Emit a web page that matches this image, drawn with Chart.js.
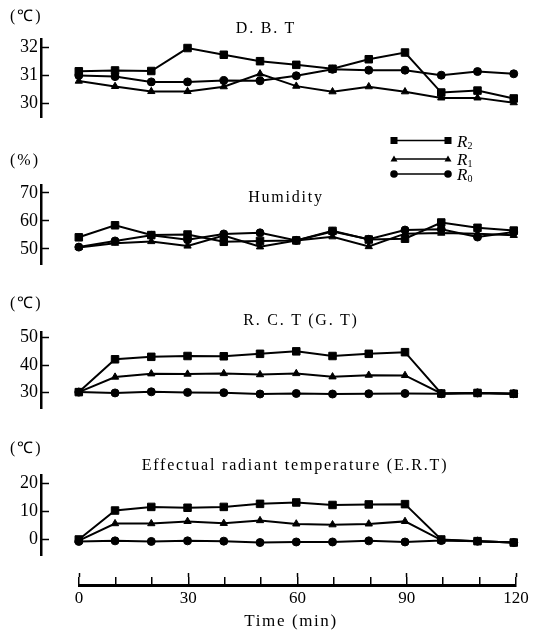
<!DOCTYPE html>
<html>
<head>
<meta charset="utf-8">
<script src="https://cdn.jsdelivr.net/npm/chart.js@4.4.0/dist/chart.umd.min.js"></script>
<style>
  html, body { margin: 0; padding: 0; background: #fff; }
  #wrap { position: relative; width: 534px; height: 631px; overflow: hidden;
          font-family: "Liberation Serif", serif; color: #000; }
  #wrap canvas { position: absolute; left: 0; }
  .ttl { position: absolute; font-size: 16px; line-height: 16px; white-space: nowrap;
         letter-spacing: 1.8px; transform: translateX(-50%); }
  .unit { position: absolute; left: 10px; font-size: 16px; line-height: 16px;
          letter-spacing: 2px; white-space: nowrap; }
</style>
</head>
<body>
<div id="wrap">
  <canvas id="cDbt" width="534" height="122" style="top:17px"></canvas>
  <canvas id="cHum" width="534" height="123" style="top:163px"></canvas>
  <canvas id="cRct" width="534" height="120" style="top:310px"></canvas>
  <canvas id="cErt" width="534" height="124" style="top:453px"></canvas>
  <canvas id="cTime" width="534" height="61" style="top:570px"></canvas>

  <div class="unit" style="top:8px">(℃)</div>
  <div class="unit" style="top:152px">(%)</div>
  <div class="unit" style="top:295px">(℃)</div>
  <div class="unit" style="top:440px">(℃)</div>

  <div class="ttl" style="left:266px;top:20px">D. B. T</div>
  <div class="ttl" style="left:286px;top:189px">Humidity</div>
  <div class="ttl" style="left:301px;top:312px">R. C. T (G. T)</div>
  <div class="ttl" style="left:295px;top:457px">Effectual radiant temperature (E.R.T)</div>
  <div class="ttl" style="left:291px;top:612px;font-size:17px;line-height:17px;letter-spacing:1.6px">Time (min)</div>

  <!-- series key -->
  <svg width="110" height="60" style="position:absolute;left:385px;top:128px">
    <g stroke="#000" stroke-width="1.5" fill="#000">
      <line x1="9" y1="12.5" x2="63" y2="12.5"/>
      <rect x="5.5" y="9" width="7" height="7" stroke="none"/>
      <rect x="59.5" y="9" width="7" height="7" stroke="none"/>
      <line x1="9" y1="31" x2="63" y2="31"/>
      <polygon points="9,27.5 12.5,33.5 5.5,33.5" stroke="none"/>
      <polygon points="63,27.5 66.5,33.5 59.5,33.5" stroke="none"/>
      <line x1="9" y1="46" x2="63" y2="46"/>
      <circle cx="9" cy="46" r="3.8" stroke="none"/>
      <circle cx="63" cy="46" r="3.8" stroke="none"/>
    </g>
    <g font-family="Liberation Serif" font-size="17" font-style="italic" fill="#000">
      <text x="72" y="19">R<tspan font-size="10" font-style="normal" dy="2">2</tspan></text>
      <text x="72" y="37">R<tspan font-size="10" font-style="normal" dy="2">1</tspan></text>
      <text x="72" y="52">R<tspan font-size="10" font-style="normal" dy="2">0</tspan></text>
    </g>
  </svg>
</div>

<script>
// sampling times (min)
const minutes = [0, 10, 20, 30, 40, 50, 60, 70, 80, 90, 100, 110, 120];

// dry bulb temperature (°C)
const dbtR2 = [31.15, 31.18, 31.16, 31.98, 31.74, 31.51, 31.38, 31.24, 31.58, 31.82, 30.39, 30.46, 30.18];
const dbtR1 = [30.80, 30.61, 30.43, 30.43, 30.60, 31.06, 30.62, 30.42, 30.60, 30.42, 30.20, 30.20, 30.03];
const dbtR0 = [31.00, 30.96, 30.77, 30.77, 30.82, 30.81, 30.99, 31.22, 31.19, 31.19, 31.01, 31.14, 31.06];

// relative humidity (%)
const humR2 = [54.1, 58.4, 54.9, 55.1, 52.5, 52.8, 53.0, 56.4, 53.3, 53.6, 59.4, 57.5, 56.5];
const humR1 = [50.5, 52.0, 52.6, 51.0, 54.7, 50.7, 53.0, 54.3, 50.8, 55.4, 55.6, 55.4, 54.8];
const humR0 = [50.6, 52.8, 54.8, 53.2, 55.3, 55.7, 53.0, 56.2, 53.4, 56.7, 57.0, 54.2, 56.0];

// globe temperature (°C)
const rctR2 = [30.1, 42.1, 43.0, 43.3, 43.2, 44.1, 45.0, 43.3, 44.1, 44.7, 29.6, 29.8, 29.5];
const rctR1 = [30.1, 35.6, 36.8, 36.7, 36.9, 36.5, 36.9, 35.7, 36.3, 36.2, 29.6, 29.8, 29.5];
const rctR0 = [30.1, 29.8, 30.2, 30.0, 29.9, 29.4, 29.6, 29.4, 29.5, 29.6, 29.5, 29.8, 29.5];

// effectual radiant temperature (°C)
const ertR2 = [-0.1, 10.3, 11.6, 11.3, 11.6, 12.7, 13.2, 12.3, 12.5, 12.6, -0.1, -0.7, -1.2];
const ertR1 = [-0.5, 5.6, 5.6, 6.4, 5.7, 6.7, 5.5, 5.2, 5.5, 6.4, -0.3, -0.7, -1.2];
const ertR0 = [-0.8, -0.6, -0.8, -0.6, -0.7, -1.2, -1.0, -1.0, -0.6, -1.0, -0.5, -0.7, -1.2];

// tick labels
const dbtTicks = [30, 31, 32];
const humTicks = [50, 60, 70];
const rctTicks = [30, 40, 50];
const ertTicks = [0, 10, 20];
const timeTicks = [0, 30, 60, 90, 120];

Chart.defaults.font.family = '"Liberation Serif", serif';
Chart.defaults.color = '#000';

const markers = [
  { label: 'R2', pointStyle: 'rect', pointRadius: 5.3 },
  { label: 'R1', pointStyle: 'triangle', pointRadius: 4.2 },
  { label: 'R0', pointStyle: 'circle', pointRadius: 4 }
];

function pts(vals) {
  return minutes.map((m, i) => ({ x: m, y: vals[i] }));
}

// one strip of the figure; all strips share the same time scale
function panel(id, series, yMin, yMax, yTicks) {
  return new Chart(document.getElementById(id), {
    type: 'line',
    data: {
      datasets: series.map((vals, i) => ({
        label: markers[i].label,
        data: pts(vals),
        borderColor: '#000',
        backgroundColor: '#000',
        borderWidth: 2,
        pointStyle: markers[i].pointStyle,
        pointRadius: markers[i].pointRadius,
        pointBorderWidth: 1,
        tension: 0
      }))
    },
    options: {
      responsive: false,
      animation: false,
      events: [],
      layout: { padding: { top: 10, bottom: 10, left: 0, right: 4 } },
      plugins: { legend: { display: false }, tooltip: { enabled: false } },
      scales: {
        x: { type: 'linear', min: -10.43, max: 123.85, display: false },
        y: {
          min: yMin,
          max: yMax,
          afterFit: s => { s.width = 41; },
          afterBuildTicks: s => { s.ticks = yTicks.map(v => ({ value: v })); },
          ticks: { font: { size: 18 }, padding: 11 },
          grid: { drawOnChartArea: false, tickLength: -8, tickWidth: 1.5, tickColor: '#000' },
          border: { width: 2.5, color: '#000' }
        }
      }
    }
  });
}

panel('cDbt', [dbtR2, dbtR1, dbtR0], 29.51, 32.31, dbtTicks);
panel('cHum', [humR2, humR1, humR0], 44.49, 72.87, humTicks);
panel('cRct', [rctR2, rctR1, rctR0], 24.22, 52.15, rctTicks);
panel('cErt', [ertR2, ertR1, ertR0], -5.75, 23.14, ertTicks);

// shared time axis: short marks every 10 min, longer ones at labelled ticks
new Chart(document.getElementById('cTime'), {
  type: 'line',
  data: { datasets: [] },
  options: {
    responsive: false,
    animation: false,
    events: [],
    layout: { padding: { left: 79, right: 18, top: 3, bottom: 0 } },
    plugins: { legend: { display: false }, tooltip: { enabled: false } },
    scales: {
      x: {
        type: 'linear', position: 'bottom', min: 0, max: 120,
        afterBuildTicks: s => { s.ticks = minutes.map(v => ({ value: v })); },
        afterFit: s => { s.height = 46; },
        ticks: {
          autoSkip: false, maxRotation: 0, padding: 3, font: { size: 17 },
          callback: v => timeTicks.includes(v) ? String(v) : ''
        },
        grid: { drawOnChartArea: true, drawTicks: false, color: '#000', lineWidth: 1.5 },
        border: { width: 3, color: '#000' }
      },
      x2: {
        type: 'linear', axis: 'x', position: 'top', min: 0, max: 120,
        afterBuildTicks: s => { s.ticks = timeTicks.map(v => ({ value: v })); },
        afterFit: s => { s.height = 4; },
        ticks: { display: false },
        grid: { drawOnChartArea: false, tickLength: 4, tickWidth: 1.5, tickColor: '#000' },
        border: { display: false }
      },
      y: { display: false }
    }
  }
});
</script>
</body>
</html>
